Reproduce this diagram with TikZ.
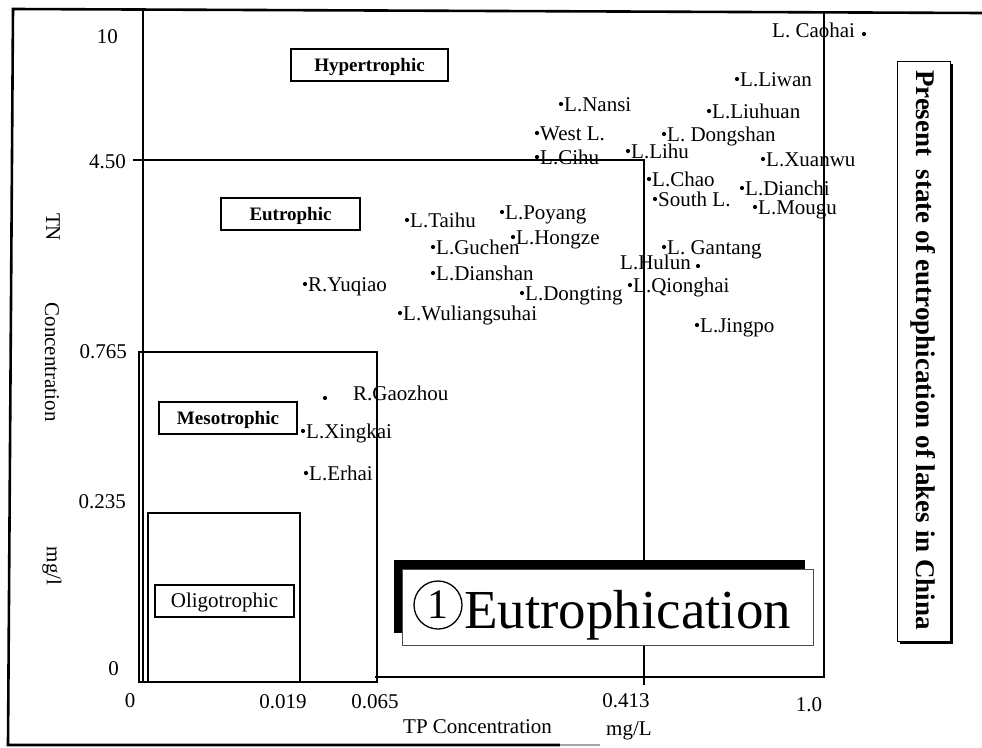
\documentclass[tikz,border=0pt]{standalone}
\usepackage{fontspec}
\setmainfont{Liberation Serif}
\tikzset{
  framel/.style={line width=2.6pt},
  zone/.style={line width=1.6pt},
  tag/.style={draw, line width=1.3pt, inner sep=0pt, minimum height=32pt, text depth=0pt},
  tagb/.style={tag, text height=12.6pt, font=\fontsize{19}{22}\selectfont\bfseries},
  tagr/.style={tag, text height=13.9pt, font=\fontsize{21}{24}\selectfont},
  pt/.style={circle, fill, inner sep=0pt, minimum size=4.2pt},
  lbl/.style={font=\fontsize{21}{24}\selectfont, inner sep=0pt, anchor=base west},
  tick/.style={font=\fontsize{21}{24}\selectfont, inner sep=0pt},
  axl/.style={font=\fontsize{21}{24}\selectfont, inner sep=0pt, rotate=-90},
}
\newcommand{\lakept}[4]{%
  \node[pt] (#1) at (#2,#3) {};
  \node[lbl] (#1-l) at ([xshift=3pt,yshift=-7pt]#1.center) {#4};}
\begin{document}
\begin{tikzpicture}[x=1pt,y=-1pt]
\useasboundingbox (0,0) rectangle (982,747);
% outer frame
\draw[framel] (982,13) -- (13,9) -- (8,745) -- (560,745);
\draw[line width=2pt, black!35] (560,745) -- (600,745);
% zones
\draw[zone] (143,9) -- (143,682);
\draw[zone] (824,12) -- (824,677) -- (375,677);
\draw[zone] (133,160) -- (644,160) -- (644,685);
\draw[zone] (139,352) rectangle (377,682);
\draw[zone] (148,513) rectangle (300,682);
% zone tags
\node[tagb, minimum width=157pt] (hyper) at (369.5,65) {Hypertrophic};
\node[tagb, minimum width=139pt] (eu) at (290.5,214) {Eutrophic};
\node[tagb, minimum width=138pt] (meso) at (228,418) {Mesotrophic};
\node[tagr, minimum width=139pt] (oligo) at (224.5,601) {Oligotrophic};
% y ticks
\node[tick, anchor=base east] (y10) at (118,43) {10};
\node[tick, anchor=base east] (y450) at (126,168) {4.50};
\node[tick, anchor=base east] (y0765) at (127,358) {0.765};
\node[tick, anchor=base east] (y0235) at (126,508) {0.235};
\node[tick, anchor=base east] (y0) at (119,675) {0};
% x ticks
\node[tick, anchor=base] (x0) at (130,707) {0};
\node[tick, anchor=base] (x0019) at (283,708) {0.019};
\node[tick, anchor=base] (x0065) at (375,708) {0.065};
\node[tick, anchor=base] (x0413) at (626,707) {0.413};
\node[tick, anchor=base] (x10) at (809,711) {1.0};
% axis titles
\node[tick, anchor=base west] (xt) at (403,733) {TP Concentration};
\node[tick, anchor=base west] (xu) at (606,735) {mg/L};
\node[axl] (yt1) at (53,227) {TN};
\node[axl] (yt2) at (52,362) {Concentration};
\node[axl] (yt3) at (52,566) {mg/l};
% lakes
\lakept{taihu}{407}{220}{L.Taihu}
\lakept{poyang}{502}{212}{L.Poyang}
\lakept{hongze}{513}{237}{L.Hongze}
\lakept{guchen}{433}{247}{L.Guchen}
\lakept{dianshan}{433}{273}{L.Dianshan}
\lakept{yuqiao}{305}{284}{R.Yuqiao}
\lakept{dongting}{522}{293}{L.Dongting}
\lakept{qionghai}{630}{285}{L.Qionghai}
\lakept{wuliang}{400}{313}{L.Wuliangsuhai}
\lakept{jingpo}{697}{325}{L.Jingpo}
\lakept{nansi}{561}{104}{L.Nansi}
\lakept{westl}{537}{133}{West L.}
\lakept{cihu}{537}{157}{L.Cihu}
\lakept{lihu}{628}{151}{L.Lihu}
\lakept{dongshan}{664}{134}{L. Dongshan}
\lakept{liwan}{737}{79}{L.Liwan}
\lakept{liuhuan}{709}{111}{L.Liuhuan}
\lakept{xuanwu}{763}{159}{L.Xuanwu}
\lakept{chao}{649}{179}{L.Chao}
\lakept{southl}{655}{199}{South L.}
\lakept{dianchi}{742}{188}{L.Dianchi}
\lakept{mougu}{755}{207}{L.Mougu}
\lakept{gantang}{664}{247}{L. Gantang}
\lakept{xingkai}{303}{431}{L.Xingkai}
\lakept{erhai}{306}{473}{L.Erhai}
\node[lbl] (caohai-l) at (772,37) {L. Caohai};
\node[pt] (caohai) at (864,34) {};
\node[lbl] (hulun-l) at (620,269) {L.Hulun};
\node[pt] (hulun) at (698,266) {};
\node[pt] (gaozhou) at (325,398) {};
\node[lbl] (gaozhou-l) at (353,400) {R.Gaozhou};
% big label
\fill (394,560) rectangle (805,633);
\draw[fill=white, line width=0.8pt, draw=black!70] (402,569) rectangle (813,645);
\node[circle, draw, line width=1.3pt, minimum size=48pt, inner sep=0pt, font=\fontsize{42}{46}\selectfont] (one) at (438,605) {1};
\node[font=\fontsize{55}{60}\selectfont, inner sep=0pt, anchor=base west] (eutro) at (464,628) {Eutrophication};
% title
\fill (900,64) rectangle (953,644);
\draw[fill=white, line width=1pt] (897,61) rectangle (950,641);
\node[rotate=-90, inner sep=0pt, font=\fontsize{27}{30}\selectfont\bfseries] (title) at (923,350) {Present~~state of eutrophication of lakes in China};
\end{tikzpicture}
\end{document}
